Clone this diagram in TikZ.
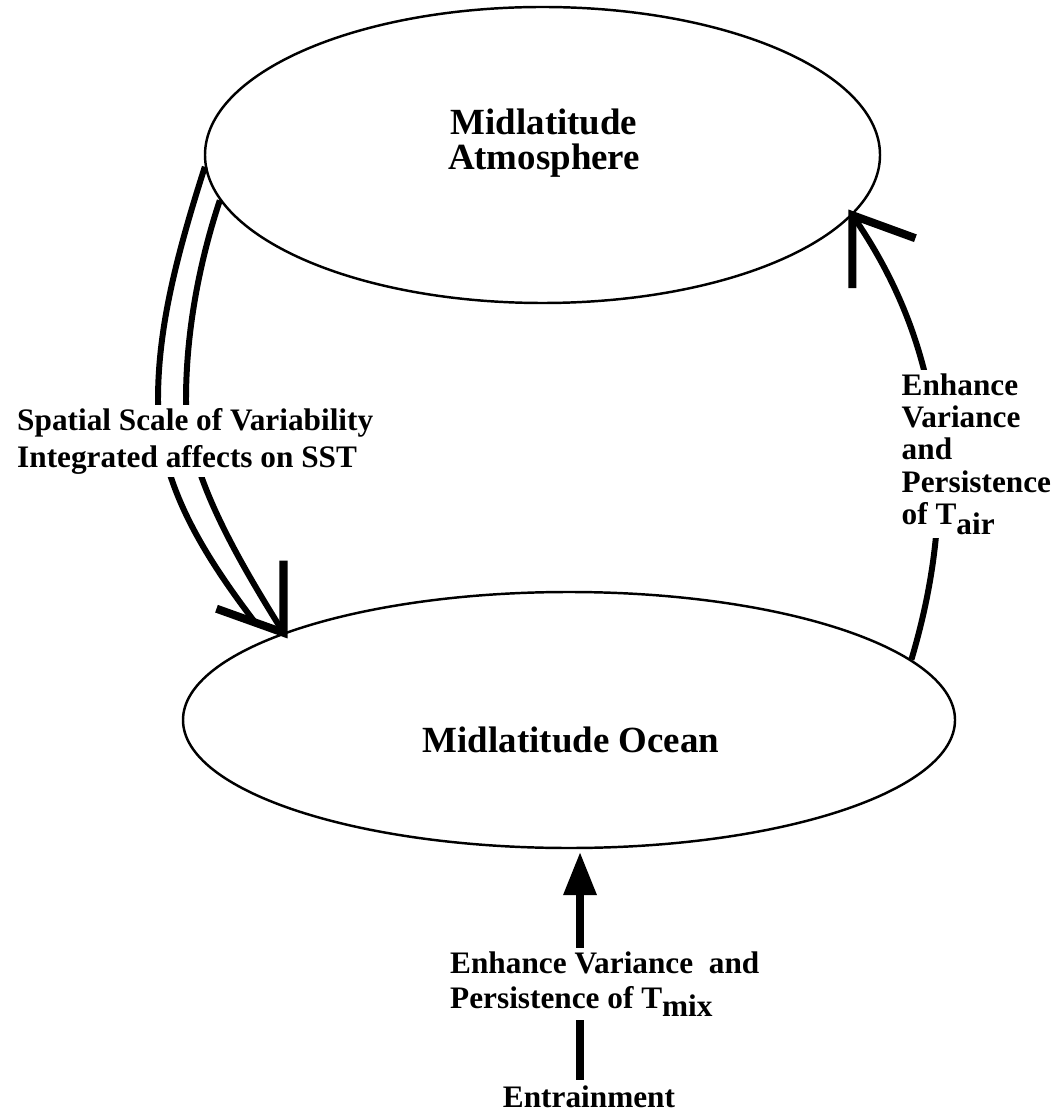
\documentclass[tikz,border=0pt]{standalone}
\usepackage{fontspec}
\setmainfont{Liberation Serif}
\usetikzlibrary{shapes.geometric,arrows.meta}

\tikzset{
  oval/.style={draw, ellipse, line width=0.7pt, inner sep=0pt},
  title/.style={font=\fontsize{10.5}{10}\selectfont\bfseries, align=center, inner sep=0pt},
  note/.style={fill=white, inner sep=1pt, font=\fontsize{8.9}{10.5}\selectfont\bfseries, align=left},
  shaft/.style={line width=1.7pt},
  barb/.style={line width=2.3pt, line join=miter},
}

\begin{document}
\begin{tikzpicture}
  \useasboundingbox (0,0) rectangle (10.56,-11.15);

  % the two reservoirs
  \node[oval, minimum width=6.75cm, minimum height=2.96cm] (atm) at (5.425,-1.55) {};
  \node[oval, minimum width=7.72cm, minimum height=2.56cm] (ocean) at (5.69,-7.20) {};
  \node[title] (atmlbl) at (5.44,-1.43) {Midlatitude\\Atmosphere};
  \node[title] (oceanlbl) at (5.71,-7.40) {Midlatitude Ocean};
  \node[title, font=\fontsize{8.9}{10}\selectfont\bfseries, inner sep=0.5mm] (entrain) at (5.89,-10.965) {Entrainment};

  % entrainment forcing
  \coordinate (mixtip) at ([xshift=1.1mm,yshift=-0.3mm]ocean.south);
  \draw[line width=2pt, -{Triangle[length=4.3mm, width=3.2mm]}] (entrain.north -| mixtip) -- (mixtip);

  % ocean feeding back on the air
  \coordinate (airtip) at (atm.349);
  \draw[shaft] (ocean.10) .. controls (9.50,-5.30) and (9.60,-3.70) .. (airtip);
  \draw[barb] ([yshift=-7.3mm]airtip) -- (airtip) -- ([shift={(0.63,-0.23)}]airtip);

  % double arrow, atmosphere onto SST
  \coordinate (ssttip) at (ocean.163);
  \coordinate (sstend) at ([shift={(-0.29,0.11)}]ssttip);
  \draw[shaft] (atm.182) .. controls (1.75,-2.60) and (1.58,-3.30) .. (1.58,-4.00)
    .. controls (1.58,-4.80) and (2.00,-5.50) .. (sstend);
  \draw[shaft] (atm.188) .. controls (2.00,-2.60) and (1.86,-3.30) .. (1.86,-4.00)
    .. controls (1.86,-4.70) and (2.35,-5.55) .. (ssttip);
  \draw[barb] ([shift={(-0.67,0.24)}]ssttip) -- (ssttip) -- ([yshift=7.2mm]ssttip);

  % labels on the arrows
  \node[note, anchor=west] (scale) at (0.13,-4.41) {Spatial Scale of Variability\\Integrated affects on SST};
  \node[note, anchor=west, font=\fontsize{8.9}{9.2}\selectfont\bfseries] (tair) at (8.975,-4.54)
    {Enhance\\Variance\\and\\Persistence\\of T\raisebox{-0.7ex}{air}};
  \node[note, anchor=west, font=\fontsize{8.9}{10}\selectfont\bfseries] (tmix) at (4.46,-9.84)
    {Enhance Variance\ \ and\\Persistence of T\raisebox{-0.5ex}{mix}};
\end{tikzpicture}
\end{document}
